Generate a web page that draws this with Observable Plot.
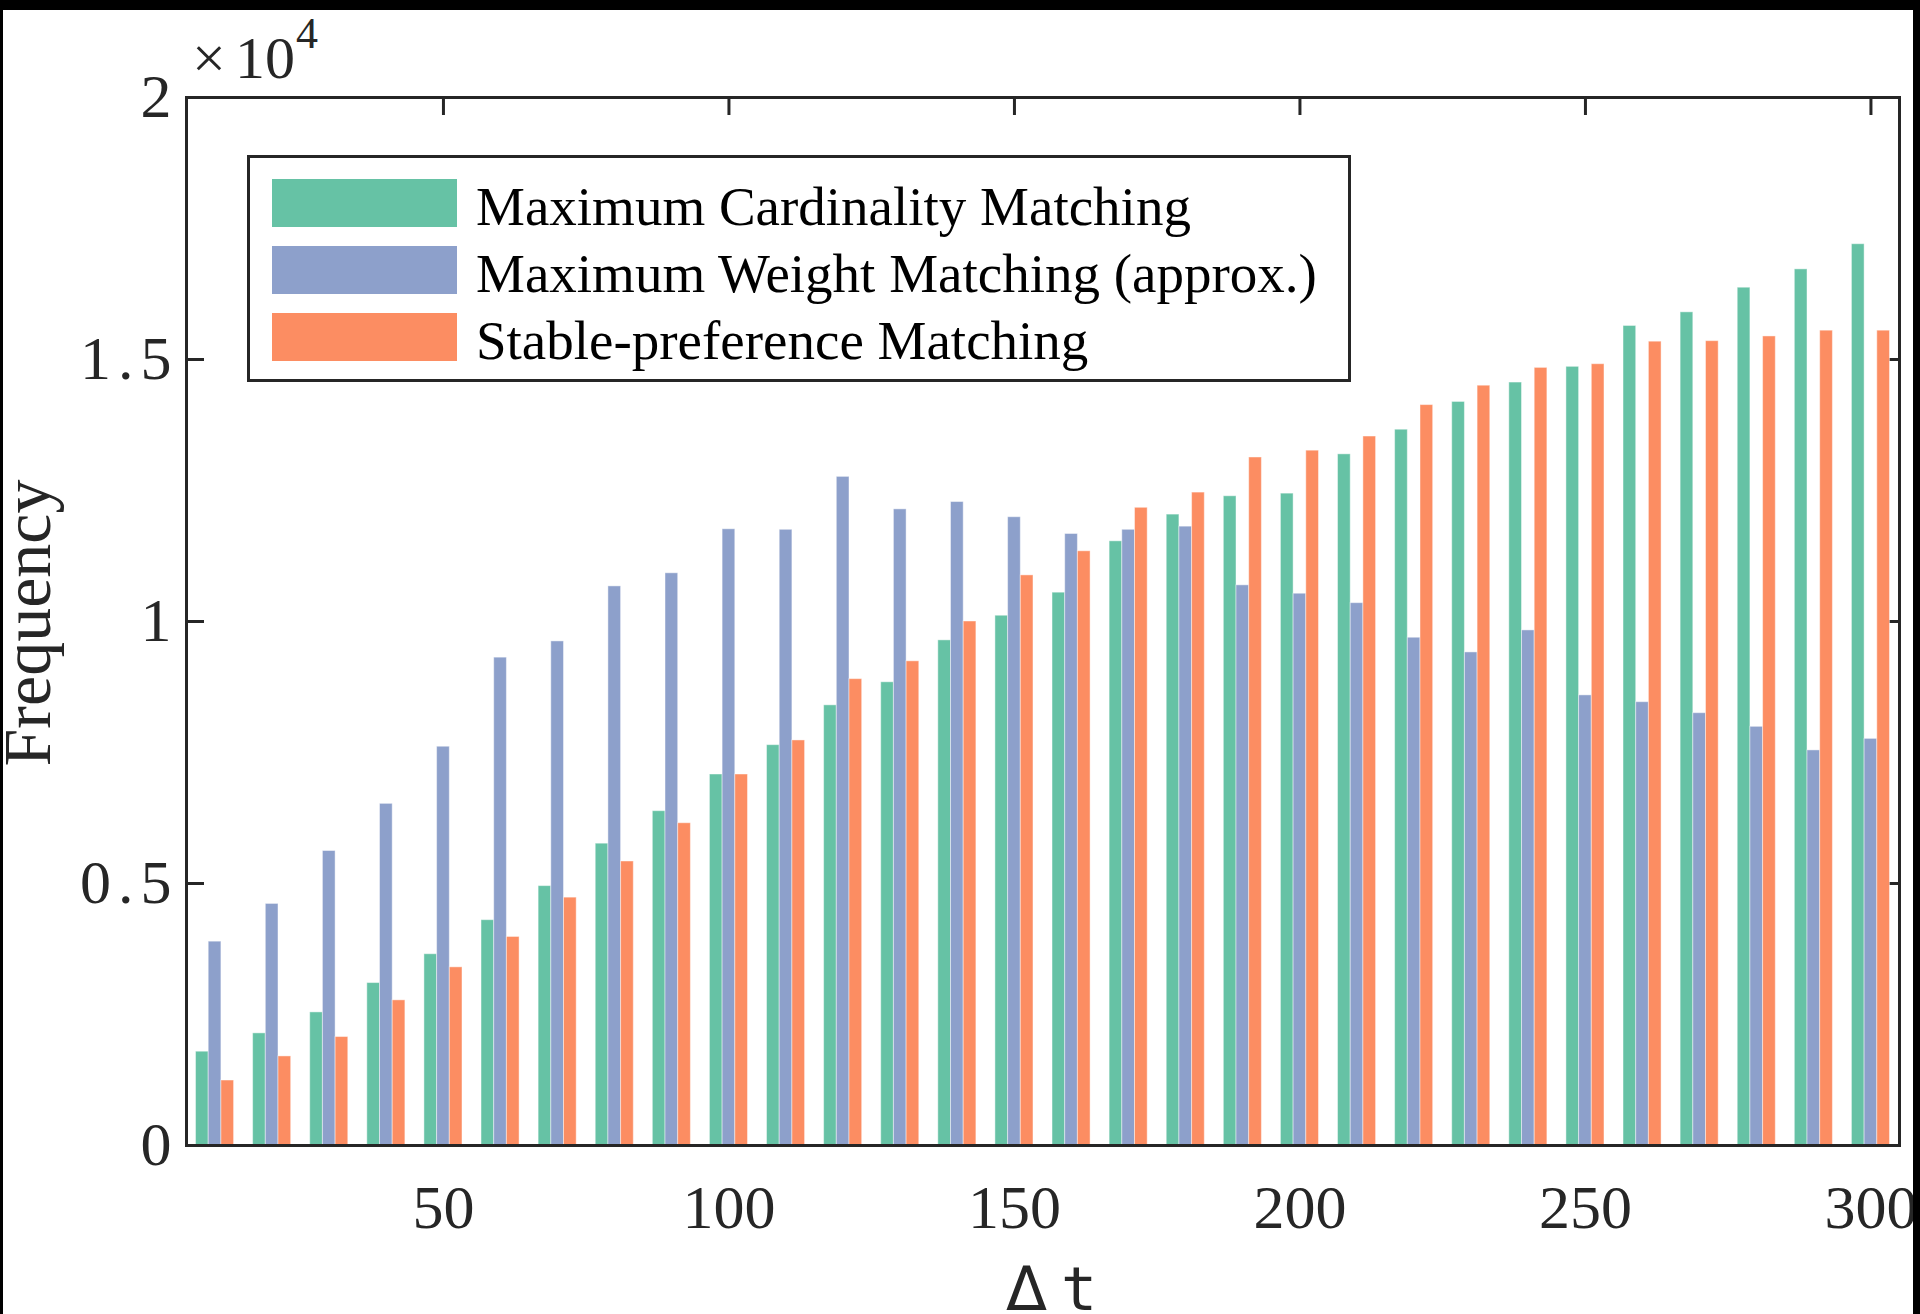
<!DOCTYPE html>
<html><head><meta charset="utf-8">
<script src="https://cdn.jsdelivr.net/npm/d3@7"></script>
<script src="https://cdn.jsdelivr.net/npm/@observablehq/plot@0.6"></script>
<style>
html,body{margin:0;padding:0;background:#000;width:1920px;height:1314px;overflow:hidden;}
#wrap{position:absolute;left:3px;top:10px;width:1910px;height:1304px;background:#fff;overflow:hidden;}
</style></head><body><div id="wrap"></div>
<script>
// ---- data ----
const dt = [10,20,30,40,50,60,70,80,90,100,110,120,130,140,150,160,170,180,190,200,210,220,230,240,250,260,270,280,290,300];
const seriesNames = ["Maximum Cardinality Matching","Maximum Weight Matching (approx.)","Stable-preference Matching"];
const seriesColors = ["#66c2a5","#8da0cb","#fc8d62"];
const mcm = [1790,2140,2540,3100,3650,4300,4950,5760,6380,7080,7640,8400,8840,9640,10110,10550,11530,12040,12390,12440,13190,13660,14190,14560,14860,15640,15900,16370,16720,17200];
const mwm = [3890,4610,5620,6520,7610,9310,9620,10670,10920,11760,11750,12760,12140,12280,11990,11670,11750,11810,10690,10530,10350,9690,9410,9830,8590,8460,8250,7990,7540,7760];
const spm = [1240,1700,2070,2770,3400,3980,4730,5420,6150,7080,7730,8900,9240,10000,10880,11340,12170,12460,13130,13260,13530,14130,14500,14840,14910,15340,15350,15440,15550,15550];
const xTicks = [50,100,150,200,250,300];
const yTicks = [0,5000,10000,15000,20000];
const yTickLabels = ["0","0.5","1","1.5","2"];
const xLabel = "Δt";
const yLabel = "Frequency";

// ---- layout ----
const W = 1910, H = 1304, mL = 183, mR = 14, mT = 87, mB = 169;
const fw = W - mL - mR, fh = H - mT - mB;
const TL = 18;
const axisColor = "#262626";
const serif = "'Liberation Serif','Times New Roman',Times,serif";

const values = [mcm, mwm, spm];
const slot = 10 * (2/3) / 3;
const rows = [];
values.forEach((vals, s) => vals.forEach((v, i) => rows.push({
  dt: dt[i], series: seriesNames[s], v,
  x1: dt[i] + (s - 1.5) * slot, x2: dt[i] + (s - 0.5) * slot
})));

const svg = Plot.plot({
  width: W, height: H,
  marginLeft: mL, marginRight: mR, marginTop: mT, marginBottom: mB,
  style: {fontFamily: serif, fontSize: "62px", color: axisColor, background: "transparent", overflow: "visible"},
  x: {domain: [5, 305]},
  y: {domain: [0, 20000]},
  color: {domain: seriesNames, range: seriesColors},
  marks: [
    Plot.tickX(xTicks, {x: d => d, insetTop: fh - TL, stroke: axisColor, strokeWidth: 3}),
    Plot.tickX(xTicks, {x: d => d, insetBottom: fh - TL, stroke: axisColor, strokeWidth: 3}),
    Plot.tickY(yTicks, {y: d => d, insetRight: fw - TL, stroke: axisColor, strokeWidth: 3}),
    Plot.tickY(yTicks, {y: d => d, insetLeft: fw - TL, stroke: axisColor, strokeWidth: 3}),
    Plot.rect(rows, {x1: "x1", x2: "x2", y1: 0, y2: "v", fill: "series", stroke: "white", strokeOpacity: 0.45, strokeWidth: 1}),
    Plot.frame({stroke: axisColor, strokeWidth: 3}),
    Plot.axisX({ticks: xTicks, tickSize: 0, tickPadding: 38, label: null, fontSize: 62, tickFormat: d => String(d)}),
    Plot.axisY({ticks: yTicks, tickSize: 0, tickPadding: 8, label: null, fontSize: 62, tickFormat: d => yTickLabels[yTicks.indexOf(d)]})
  ]
});
document.getElementById("wrap").appendChild(svg);
// wider glyph spacing on y tick labels, like the reference
d3.select(svg).selectAll("g[aria-label='y-axis tick label'] text").style("letter-spacing", "7px");

const g = d3.select(svg).append("g").attr("text-anchor", "start");
// exponent
g.append("text").attr("x", 189).attr("y", 68).attr("font-family", serif).attr("font-size", 60).attr("fill", axisColor).text("×");
g.append("text").attr("x", 232).attr("y", 68).attr("font-family", serif).attr("font-size", 60).attr("fill", axisColor).text("10");
g.append("text").attr("x", 293).attr("y", 38).attr("font-family", serif).attr("font-size", 44).attr("fill", axisColor).text("4");
// y label
g.append("text").attr("transform", "translate(47,613) rotate(-90)").attr("text-anchor", "middle")
  .attr("font-family", serif).attr("font-size", 68).attr("fill", axisColor).text(yLabel);
// x label (Δ sans, t mono)
g.append("text").attr("x", 1003).attr("y", 1300).attr("font-family", "'DejaVu Sans',sans-serif").attr("font-size", 60).attr("fill", axisColor).text(xLabel[0]);
g.append("text").attr("x", 1058).attr("y", 1300).attr("font-family", "'DejaVu Sans Mono',monospace").attr("font-size", 60).attr("fill", axisColor).text(xLabel.slice(1));
// legend
const lg = g.append("g");
lg.append("rect").attr("x", 245.5).attr("y", 146.5).attr("width", 1101).attr("height", 224)
  .attr("fill", "#fff").attr("stroke", axisColor).attr("stroke-width", 3);
seriesNames.forEach((name, i) => {
  lg.append("rect").attr("x", 269).attr("y", 169 + i * 67).attr("width", 185).attr("height", 48).attr("fill", seriesColors[i]);
  lg.append("text").attr("x", 473).attr("y", 215 + i * 67).attr("font-family", serif).attr("font-size", 55).attr("fill", "#000").text(name);
});
</script></body></html>
